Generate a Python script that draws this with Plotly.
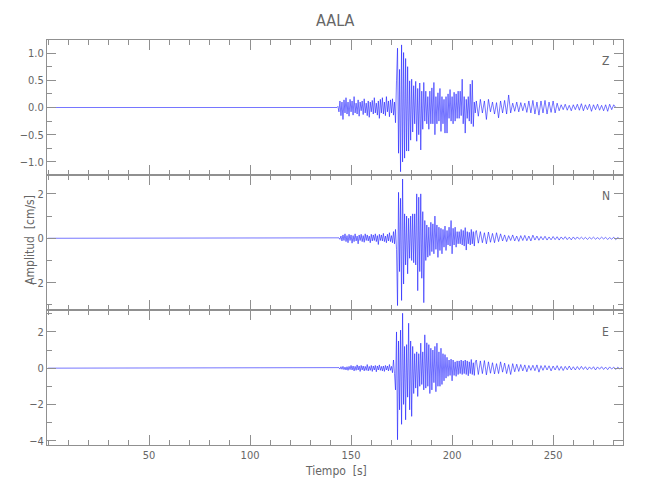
import numpy as np
import plotly.graph_objects as go
from plotly.subplots import make_subplots

# ---------------- data ----------------
STATION = "AALA"
COMPONENTS = ["Z", "N", "E"]

QUIET_T = [0.0, 143.0]          # flat record before the P arrival
QUIET_V = [0.0, 0.0]

T_PRE, DT_PRE = 143.5, 0.5       # P coda segment
T_STRONG, DT_STRONG = 172.0, 0.5 # S / strong motion segment
T_TAIL, DT_TAIL = 212.0, 1.0     # late coda

Z_PRE = [0.02, -0.08, 0.12, -0.15, 0.1, -0.22, 0.14, -0.1, 0.18, -0.12,
         0.1, -0.16, 0.15, -0.08, 0.12, -0.14, 0.2, -0.1, 0.08, -0.12,
         0.14, -0.16, 0.1, -0.06, 0.12, -0.13, 0.16, -0.1, 0.08, -0.15,
         0.12, -0.18, 0.1, -0.08, 0.13, -0.12, 0.18, -0.1, 0.08, -0.14,
         0.12, -0.2, 0.15, -0.1, 0.18, -0.12, 0.1, -0.15, 0.2, -0.08,
         0.12, -0.17, 0.14, -0.1, 0.16, -0.14, 0.1]
Z_STRONG = [-0.28, 0.5, 1.09, -0.84, 0.7, -1.18, 1.15, -1.0, 1.01, -0.93,
            0.9, -0.8, 0.75, -0.8, 0.49, -0.6, 0.52, -0.45, 0.4, -0.3,
            0.48, -0.62, 0.35, -0.5, 0.45, -0.78, 0.3, -0.4, 0.46, -0.25,
            0.3, -0.3, 0.2, -0.4, 0.3, -0.3, 0.36, -0.3, 0.46, -0.5,
            0.2, -0.3, 0.27, -0.25, 0.35, -0.44, 0.2, -0.3, 0.15, -0.47,
            0.2, -0.47, 0.25, -0.2, 0.33, -0.25, 0.2, -0.3, 0.28, -0.25,
            0.25, -0.2, 0.3, -0.2, 0.3, -0.15, 0.52, -0.3, 0.2, -0.47,
            0.15, -0.2, 0.2, -0.25, 0.43, -0.3, 0.5, -0.35, 0.1, -0.1]
Z_TAIL = [0.12, -0.16, 0.15, -0.1, 0.12, -0.22, 0.15, -0.08, 0.1, -0.12,
          0.09, -0.19, 0.12, -0.1, 0.13, -0.12, 0.23, -0.1, 0.08, -0.07,
          0.1, -0.08, 0.09, -0.06, 0.08, -0.09, 0.12, -0.1, 0.13, -0.12,
          0.1, -0.14, 0.12, -0.1, 0.13, -0.12, 0.1, -0.09, 0.12, -0.1,
          0.08, -0.06, 0.05, -0.04, 0.06, -0.05, 0.04, -0.06, 0.05, -0.04,
          0.06, -0.05, 0.07, -0.06, 0.05, -0.04, 0.06, -0.07, 0.05, -0.04,
          0.06, -0.05, 0.04, -0.06, 0.05, -0.07, 0.06, -0.04, 0.05, 0.0]

N_PRE = [0.0, 0.02, -0.05, 0.1, -0.12, 0.15, -0.1, 0.2, -0.15, 0.12,
         -0.2, 0.18, -0.1, 0.15, -0.22, 0.12, -0.15, 0.2, -0.12, 0.1,
         -0.25, 0.15, -0.1, 0.18, -0.15, 0.12, -0.18, 0.2, -0.1, 0.15,
         -0.12, 0.1, -0.2, 0.18, -0.12, 0.15, -0.1, 0.2, -0.15, 0.12,
         -0.28, 0.18, -0.1, 0.15, -0.12, 0.22, -0.15, 0.1, -0.2, 0.18,
         -0.12, 0.25, -0.15, 0.12, -0.2, 0.3, -0.25]
N_STRONG = [0.4, -0.5, -3.03, 2.07, -1.5, 1.8, -2.8, 2.67, -2.06, 1.1,
            -1.2, 1.0, -1.6, 0.9, -0.9, 1.0, -1.0, 1.1, -1.1, 1.1,
            -1.2, 2.0, -2.36, 1.85, -1.5, 2.0, -1.8, 1.2, -2.9, 0.8,
            -1.0, 0.6, -0.85, 0.5, -0.78, 0.72, -0.6, 0.65, -0.7, 1.0,
            -0.5, 0.6, -0.86, 0.5, -0.55, 0.45, -0.7, 0.4, -0.4, 0.55,
            -0.55, 0.35, -0.3, 0.5, -0.35, 0.8, -0.7, 0.45, -0.3, 0.5,
            -0.4, 0.3, -0.25, 0.3, -0.25, 0.4, -0.3, 0.35, -0.35, 0.48,
            -0.53, 0.3, -0.25, 0.27, -0.3, 0.4, -0.25, 0.3, -0.35, 0.25]
N_TAIL = [0.35, -0.22, 0.3, -0.2, 0.25, -0.25, 0.28, -0.18, 0.22, -0.2,
          0.25, -0.15, 0.2, -0.12, 0.15, -0.15, 0.12, -0.1, 0.15, -0.12,
          0.1, -0.14, 0.12, -0.1, 0.13, -0.11, 0.1, -0.12, 0.14, -0.08,
          0.1, -0.09, 0.08, -0.07, 0.09, -0.08, 0.06, -0.07, 0.08, -0.06,
          0.07, -0.08, 0.06, -0.05, 0.07, -0.06, 0.05, -0.07, 0.06, -0.05,
          0.06, -0.04, 0.05, -0.04, 0.04, -0.05, 0.04, -0.03, 0.05, -0.04,
          0.03, -0.04, 0.05, -0.03, 0.04, -0.05, 0.03, -0.04, 0.05, -0.06,
          0.03, -0.02, 0.0]

E_PRE = [0.0, 0.03, -0.05, 0.08, -0.06, 0.1, -0.08, 0.06, -0.1, 0.08,
         -0.12, 0.1, -0.08, 0.15, -0.1, 0.12, -0.15, 0.1, -0.12, 0.18,
         -0.1, 0.12, -0.18, 0.15, -0.1, 0.12, -0.15, 0.1, -0.12, 0.2,
         -0.15, 0.1, -0.12, 0.15, -0.18, 0.12, -0.1, 0.15, -0.2, 0.12,
         -0.1, 0.18, -0.12, 0.1, -0.15, 0.12, -0.18, 0.15, -0.1, 0.12,
         -0.15, 0.2, -0.12, 0.1, -0.25, 0.45, -0.3]
E_STRONG = [-1.2, 2.0, -3.95, 1.5, -2.3, 2.1, -3.1, 3.03, -2.0, 1.2,
            -2.85, 1.3, -1.6, 2.48, -2.3, 1.5, -2.66, 1.2, -1.4, 0.8,
            -1.1, 0.9, -1.56, 0.8, -1.0, 1.38, -0.9, 0.9, -1.2, 1.84,
            -1.1, 1.4, -1.0, 1.3, -1.4, 1.1, -1.2, 1.0, -0.8, 1.2,
            -1.3, 1.38, -1.0, 0.9, -1.0, 1.1, -0.9, 0.8, -0.7, 0.75,
            -0.55, 0.6, -0.45, 0.45, -0.4, 0.5, -0.7, 0.45, -0.4, 0.35,
            -0.45, 0.4, -0.35, 0.4, -0.3, 0.45, -0.35, 0.4, -0.3, 0.45,
            -0.35, 0.4, -0.42, 0.35, -0.3, 0.48, -0.35, 0.3, -0.4, 0.35]
E_TAIL = [0.45, -0.35, 0.4, -0.3, 0.42, -0.37, 0.35, -0.28, 0.3, -0.32,
          0.25, -0.3, 0.35, -0.22, 0.28, -0.3, 0.2, -0.35, 0.25, -0.2,
          0.22, -0.18, 0.2, -0.15, 0.18, -0.2, 0.15, -0.12, 0.16, -0.14,
          0.18, -0.22, 0.14, -0.12, 0.15, -0.1, 0.13, -0.15, 0.12, -0.1,
          0.14, -0.12, 0.1, -0.13, 0.1, -0.09, 0.12, -0.1, 0.08, -0.1,
          0.09, -0.08, 0.1, -0.07, 0.08, -0.09, 0.07, -0.06, 0.08, -0.1,
          0.07, -0.06, 0.08, -0.07, 0.06, -0.08, 0.07, -0.05, 0.06, -0.07,
          0.05, -0.04, 0.03]

X_TICKS = [50, 100, 150, 200, 250]
Y_TICKS = {
    "Z": ([-1.0, -0.5, 0.0, 0.5, 1.0], ["\u22121.0", "\u22120.5", "0.0", "0.5", "1.0"]),
    "N": ([-2, 0, 2], ["\u22122", "0", "2"]),
    "E": ([-4, -2, 0, 2], ["\u22124", "\u22122", "0", "2"]),
}
Y_RANGES = {"Z": [-1.24, 1.24], "N": [-3.23, 2.85], "E": [-4.24, 3.21]}
Y_MINOR = {"Z": 0.25, "N": 1, "E": 1}
X_RANGE = [-0.5, 284.6]

SERIES = {
    "Z": (Z_PRE, Z_STRONG, Z_TAIL),
    "N": (N_PRE, N_STRONG, N_TAIL),
    "E": (E_PRE, E_STRONG, E_TAIL),
}


def build(pre, strong, tail):
    t = np.concatenate([
        QUIET_T,
        T_PRE + DT_PRE * np.arange(len(pre)),
        T_STRONG + DT_STRONG * np.arange(len(strong)),
        T_TAIL + DT_TAIL * np.arange(len(tail)),
    ])
    v = np.concatenate([QUIET_V, pre, strong, tail])
    return t, v


FONT = "DejaVu Sans Condensed, DejaVu Sans, sans-serif"
GREY = "#909090"
TXT = "#666666"

fig = make_subplots(rows=3, cols=1, shared_xaxes=True, vertical_spacing=0)

for i, comp in enumerate(COMPONENTS, start=1):
    t, v = build(*SERIES[comp])
    fig.add_trace(go.Scatter(x=t, y=v, mode="lines",
                             line=dict(color="#1a1aff", width=0.6),
                             showlegend=False, hoverinfo="skip"),
                  row=i, col=1)
    fig.update_yaxes(row=i, col=1, automargin=False,
                     range=Y_RANGES[comp], tickmode="array",
                     tickvals=Y_TICKS[comp][0], ticktext=Y_TICKS[comp][1],
                     showline=True, linecolor=GREY, linewidth=1, mirror="ticks",
                     ticks="inside", ticklen=9, tickcolor=GREY, tickwidth=1,
                     minor=dict(ticks="inside", ticklen=5, tickcolor=GREY,
                                tickmode="linear", tick0=0, dtick=Y_MINOR[comp],
                                showgrid=False),
                     showgrid=False, zeroline=False,
                     tickfont=dict(family=FONT, size=11, color=TXT))
    fig.update_xaxes(row=i, col=1, automargin=False,
                     range=X_RANGE, tickmode="array", tickvals=X_TICKS,
                     showline=True, linecolor=GREY, linewidth=1, mirror="ticks",
                     ticks="inside", ticklen=10, tickcolor=GREY, tickwidth=1,
                     minor=dict(ticks="inside", ticklen=5, tickcolor=GREY,
                                tickmode="linear", tick0=0, dtick=10,
                                showgrid=False),
                     showgrid=False, zeroline=False,
                     tickfont=dict(family=FONT, size=11, color=TXT))

annotations = [
    dict(text=STATION, x=0.5017, y=1.049, xref="paper", yref="paper",
         showarrow=False, font=dict(family=FONT, size=16, color=TXT),
         xanchor="center", yanchor="middle"),
    dict(text="Tiempo  [s]", x=0.5017, y=-0.064, xref="paper", yref="paper",
         showarrow=False, font=dict(family=FONT, size=12, color=TXT),
         xanchor="center", yanchor="middle"),
    dict(text="Amplitud  [cm/s]", x=-0.030, y=0.506, xref="paper", yref="paper",
         showarrow=False, textangle=-90, font=dict(family=FONT, size=12, color=TXT),
         xanchor="center", yanchor="middle"),
]
for comp, yp in zip(COMPONENTS, [0.948, 0.615, 0.279]):
    annotations.append(dict(text=comp, x=0.970, y=yp, xref="paper", yref="paper",
                            showarrow=False, font=dict(family=FONT, size=12, color=TXT),
                            xanchor="center", yanchor="middle"))

# the page body adds an 8 px offset, so the margins are trimmed to compensate
fig.update_layout(width=650, height=500,
                  margin=dict(l=39, r=35, t=32, b=63),
                  paper_bgcolor="white", plot_bgcolor="white",
                  annotations=annotations)

fig.write_html("out.html")
